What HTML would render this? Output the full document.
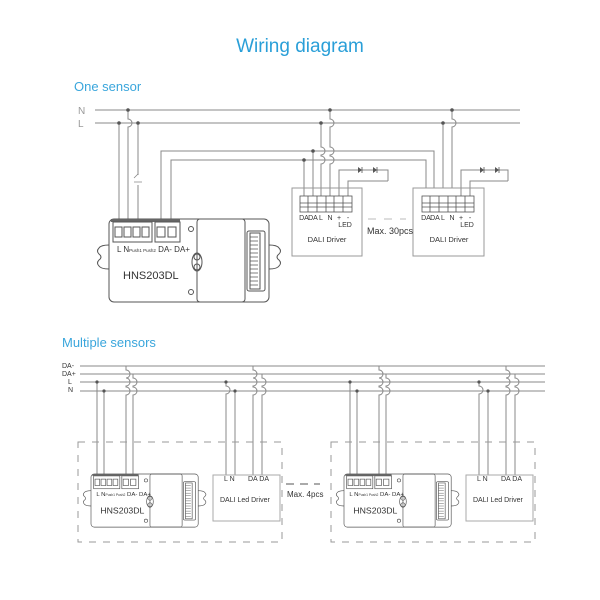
<!DOCTYPE html>
<html><head><meta charset="utf-8"><style>
body{margin:0;background:#fff}
svg{display:block}
text{font-family:"Liberation Sans",sans-serif}
</style></head><body>
<svg width="600" height="600" viewBox="0 0 600 600" xmlns="http://www.w3.org/2000/svg">
<defs>
<g id="sensor" fill="none" stroke="#555" stroke-width="1">
  <path d="M0,26 q-8,0 -10,3 q-3,3 0,6 q4,3 0,6 q-3,3 0,6 q2,3 10,3"/>
  <path d="M160,26 q8,0 10,3 q3,3 0,6 q-4,3 0,6 q3,3 0,6 q-2,3 -10,3"/>
  <rect x="0" y="0" width="160" height="83" rx="5" fill="#fff"/>
  <rect x="2" y="0" width="69" height="3" fill="#666" stroke="none"/>
  <rect x="4" y="3" width="39" height="20" fill="#fff"/>
  <rect x="46" y="3" width="25" height="20" fill="#fff"/>
  <rect x="6" y="8" width="7" height="10"/><rect x="15" y="8" width="7" height="10"/>
  <rect x="24" y="8" width="7" height="10"/><rect x="33" y="8" width="7" height="10"/>
  <rect x="48" y="8" width="8" height="10"/><rect x="59" y="8" width="8" height="10"/>
  <circle cx="82" cy="10" r="2.5"/><circle cx="82" cy="73" r="2.5"/>
  <rect x="88" y="0" width="48" height="83" rx="3"/>
  <ellipse cx="88" cy="43" rx="5" ry="9"/>
  <circle cx="88" cy="38" r="3"/><circle cx="88" cy="48" r="3"/>
  <rect x="138" y="12" width="18" height="60" rx="2"/>
  <rect x="141" y="14" width="10" height="56"/>
  <path d="M141,18h8M141,22h8M141,26h8M141,30h8M141,34h8M141,38h8M141,42h8M141,46h8M141,50h8M141,54h8M141,58h8M141,62h8M141,66h8" stroke-width="0.7"/>
</g>
</defs>

<text x="300" y="52" text-anchor="middle" font-size="19" fill="#2a9fd8">Wiring diagram</text>
<text x="74" y="91" font-size="13" fill="#3aa6dc">One sensor</text>
<text x="62" y="347" font-size="13" fill="#3aa6dc">Multiple sensors</text>

<g stroke="#888" stroke-width="1" fill="none">
  <path d="M95,110H520M95,123H520"/>
  <path d="M119,123V219M128,110V119a4,4 0 0 1 0,8V219M138,123V175M138,185V219"/>
  <path d="M134,178l4,-4M134,182h8" stroke-width="0.8"/>
  <path d="M161,219V151H434V188M171,219V160H426V188"/>
  <path d="M304,160V196M313,151V196M321,123V147a4,4 0 0 1 0,8V156a4,4 0 0 1 0,8V196M330,110V119a4,4 0 0 1 0,8V147a4,4 0 0 1 0,8V156a4,4 0 0 1 0,8V196"/>
  <path d="M339,196V170H388V181M348,196V181H388"/>
  <path d="M443,123V188M452,110V119a4,4 0 0 1 0,8V188"/>
  <path d="M461,196V170H508V181M470,196V181H508"/>
  <rect x="292" y="188" width="70" height="68" stroke="#999"/>
  <rect x="413" y="188" width="71" height="68" stroke="#999"/>
  <path d="M368,219h8M384,219h8M400,219h6" stroke="#bbb"/>
</g>
<g fill="#555">
  <circle cx="128" cy="110" r="1.8"/><circle cx="119" cy="123" r="1.8"/><circle cx="138" cy="123" r="1.8"/>
  <circle cx="313" cy="151" r="1.8"/><circle cx="304" cy="160" r="1.8"/><circle cx="321" cy="123" r="1.8"/><circle cx="330" cy="110" r="1.8"/>
  <circle cx="443" cy="123" r="1.8"/><circle cx="452" cy="110" r="1.8"/>
  <path d="M358,167v6l4,-3zM373,167v6l4,-3zM480,167v6l4,-3zM495,167v6l4,-3z"/>
</g>
<g stroke="#555" fill="none" stroke-width="0.8">
  <path d="M362,167v6M377,167v6M484,167v6M499,167v6"/>
  <rect x="300" y="196" width="52" height="16"/><path d="M308,196v16M317,196v16M326,196v16M334,196v16M343,196v16M300,203h52M300,207h52"/>
  <rect x="422" y="196" width="52" height="16"/><path d="M430,196v16M439,196v16M448,196v16M456,196v16M465,196v16M422,203h52M422,207h52"/>
</g>
<g font-size="7" fill="#333" text-anchor="middle">
  <text x="304" y="220">DA</text><text x="313" y="220">DA</text><text x="321" y="220">L</text><text x="330" y="220">N</text><text x="339" y="220">+</text><text x="348" y="220">-</text>
  <text x="345" y="227">LED</text>
  <text x="327" y="242" font-size="7.5">DALI Driver</text>
  <text x="426" y="220">DA</text><text x="435" y="220">DA</text><text x="443" y="220">L</text><text x="452" y="220">N</text><text x="461" y="220">+</text><text x="470" y="220">-</text>
  <text x="467" y="227">LED</text>
  <text x="449" y="242" font-size="7.5">DALI Driver</text>
</g>
<g font-size="7" fill="#333">
  <text x="367" y="234" font-size="9">Max. 30pcs</text>
  <text x="78" y="114" font-size="10" fill="#999">N</text><text x="78" y="127" font-size="10" fill="#999">L</text>
</g>
<g transform="translate(109,219)">
  <use href="#sensor"/>
  <text x="8" y="33" font-size="8" fill="#333">L N<tspan font-size="4.5">Push1 Push2</tspan> DA- DA+</text>
  <text x="14" y="60" font-size="11" fill="#333">HNS203DL</text>
</g>

<g font-size="7" fill="#333">
  <text x="62" y="368">DA-</text><text x="62" y="376">DA+</text><text x="68" y="384">L</text><text x="68" y="392">N</text>
</g>
<g stroke="#888" fill="none" stroke-width="1">
  <path d="M80,366H545M80,374H545M80,382H545M80,391H545"/>
  <g id="sec">
    <path d="M97,382V474M104,391V474M126,366V370a4,4 0 0 1 0,8V378a4,4 0 0 1 0,8V387a4,4 0 0 1 0,8V474M133,374V378a4,4 0 0 1 0,8V387a4,4 0 0 1 0,8V474"/>
    <path d="M226,382V386a4,4 0 0 1 0,8V475M235,391V475M253,366V370a4,4 0 0 1 0,8V378a4,4 0 0 1 0,8V387a4,4 0 0 1 0,8V475M262,374V378a4,4 0 0 1 0,8V387a4,4 0 0 1 0,8V475"/>
    <rect x="78" y="442" width="204" height="100" stroke="#999" stroke-dasharray="7,7"/>
    <rect x="213" y="475" width="67" height="46" stroke="#aaa"/>
  </g>
  <use href="#sec" transform="translate(253,0)"/>
  <path d="M286,484h8M300,484h8M314,484h6" stroke="#555"/>
</g>
<g fill="#555">
  <circle cx="97" cy="382" r="1.6"/><circle cx="104" cy="391" r="1.6"/><circle cx="226" cy="382" r="1.6"/><circle cx="235" cy="391" r="1.6"/>
  <circle cx="350" cy="382" r="1.6"/><circle cx="357" cy="391" r="1.6"/><circle cx="479" cy="382" r="1.6"/><circle cx="488" cy="391" r="1.6"/>
</g>
<g font-size="7" fill="#333">
  <text x="224" y="481">L N</text><text x="248" y="481">DA DA</text><text x="220" y="502">DALI Led Driver</text>
  <text x="477" y="481">L N</text><text x="501" y="481">DA DA</text><text x="473" y="502">DALI Led Driver</text>
  <text x="287" y="497" font-size="8">Max. 4pcs</text>
</g>
<g transform="translate(91,474) scale(0.67,0.64)">
  <use href="#sensor"/>
  <text x="8" y="34" font-size="9" fill="#333">L N<tspan font-size="5">Push1 Push2</tspan> DA- DA+</text>
  <text x="14" y="62" font-size="13" fill="#333">HNS203DL</text>
</g>
<g transform="translate(344,474) scale(0.67,0.64)">
  <use href="#sensor"/>
  <text x="8" y="34" font-size="9" fill="#333">L N<tspan font-size="5">Push1 Push2</tspan> DA- DA+</text>
  <text x="14" y="62" font-size="13" fill="#333">HNS203DL</text>
</g>
</svg>
</body></html>
